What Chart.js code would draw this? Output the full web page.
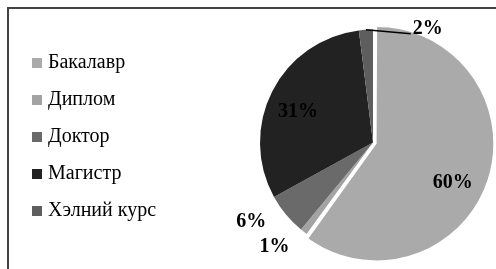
<!DOCTYPE html>
<html>
<head>
<meta charset="utf-8">
<script src="https://cdn.jsdelivr.net/npm/chart.js@4"></script>
<style>
  html, body { margin: 0; padding: 0; background: #fff; }
  #wrap { width: 496px; height: 269px; }
</style>
</head>
<body>
<div id="wrap"><canvas id="myChart"></canvas></div>
<script>
const labels = ['Бакалавр', 'Диплом', 'Доктор', 'Магистр', 'Хэлний курс'];
const shares = [60, 1, 6, 31, 2];
const colors = ['#aaaaaa', '#a3a3a3', '#6a6a6a', '#222222', '#5e5e5e'];
const explode = [15, 0, 0, 0, 0];
// где ставить подписи: сдвиг угла (град.) от середины сектора и доля радиуса
const labelPlace = [[9, 0.72], [6, 1.26], [7, 1.28], [-4, 0.72], [29, 1.13]];
const leader = [false, false, false, false, true];

const serif = '"Liberation Serif", "Times New Roman", serif';

// рамка сверху и слева
const frame = {
    id: 'frame',
    beforeDraw(chart) {
        const ctx = chart.ctx;
        ctx.save();
        ctx.fillStyle = '#444';
        ctx.fillRect(7, 7, chart.width - 7, 2);
        ctx.fillRect(7, 7, 2, chart.height - 7);
        ctx.restore();
    }
};

// круг сдвинут вправо, легенда занимает левую часть
const pieArea = {
    id: 'pieArea',
    afterLayout(chart) {
        const a = chart.chartArea;
        a.left = 250;
        a.width = a.right - a.left;
    }
};

// подписи процентов
const pieLabels = {
    id: 'pieLabels',
    afterDatasetsDraw(chart) {
        const ctx = chart.ctx;
        const arcs = chart.getDatasetMeta(0).data;
        ctx.save();
        ctx.font = 'bold 20px ' + serif;
        ctx.fillStyle = '#000';
        ctx.textAlign = 'center';
        ctx.textBaseline = 'middle';
        arcs.forEach((arc, i) => {
            const p = arc.getProps(['x', 'y', 'startAngle', 'endAngle', 'outerRadius'], true);
            const mid = (p.startAngle + p.endAngle) / 2;
            const fix = 1 - Math.sin(Math.min(Math.PI, p.endAngle - p.startAngle));
            const shift = (arc.options.offset || 0) / 4 * (1 + fix);
            const cx = p.x + Math.cos(mid) * shift;
            const cy = p.y + Math.sin(mid) * shift;
            const a = mid + labelPlace[i][0] * Math.PI / 180;
            const r = p.outerRadius * labelPlace[i][1];
            const lx = cx + Math.cos(a) * r;
            const ly = cy + Math.sin(a) * r + 1.5;
            const text = shares[i] + '%';
            if (leader[i]) {
                const w = ctx.measureText(text).width;
                ctx.beginPath();
                ctx.moveTo(cx + Math.cos(mid) * p.outerRadius, cy + Math.sin(mid) * p.outerRadius);
                ctx.lineTo(lx - w / 2 - 2, ly + 5);
                ctx.lineWidth = 1.5;
                ctx.strokeStyle = '#000';
                ctx.stroke();
            }
            ctx.fillText(text, lx, ly);
        });
        ctx.restore();
    }
};

const ctx = document.getElementById('myChart').getContext('2d');
const myChart = new Chart(ctx, {
    type: 'pie',
    data: {
        labels: labels,
        datasets: [{
            data: shares,
            backgroundColor: colors,
            borderWidth: 0,
            offset: explode,
            hoverOffset: 0,
            radius: 113
        }]
    },
    options: {
        responsive: true,
        maintainAspectRatio: false,
        animation: false,
        layout: { padding: { left: 19, top: 36, bottom: 20, right: 0 } },
        plugins: {
            tooltip: { enabled: false },
            legend: {
                position: 'left',
                align: 'start',
                labels: {
                    boxWidth: 2,
                    boxHeight: 2,
                    padding: 17,
                    color: '#111',
                    font: { family: serif, size: 20 },
                    generateLabels(chart) {
                        return chart.data.labels.map((t, i) => ({
                            text: t,
                            fillStyle: colors[i],
                            strokeStyle: colors[i],
                            lineWidth: 8,
                            hidden: false,
                            index: i
                        }));
                    }
                }
            }
        }
    },
    plugins: [frame, pieArea, pieLabels]
});
</script>
</body>
</html>
